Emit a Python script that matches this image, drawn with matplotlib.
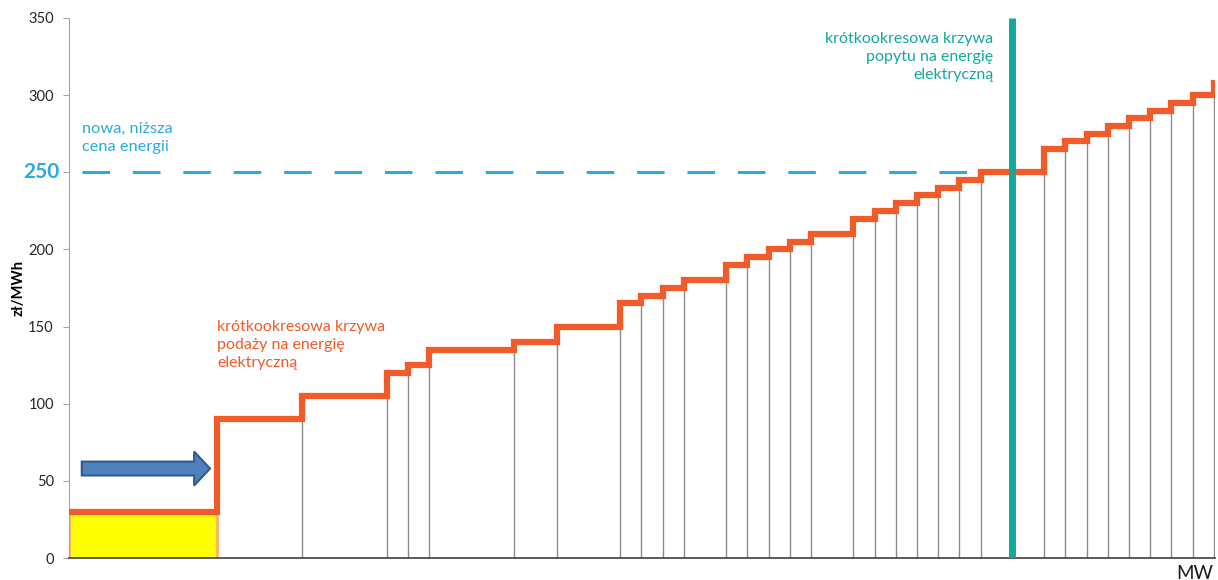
import numpy as np
import matplotlib.pyplot as plt
from matplotlib.patches import FancyArrow

plt.rcParams['font.family'] = ['Lato', 'DejaVu Sans']

# capacity blocks (MW units) and their prices (zł/MWh)
widths = [7, 4, 4, 1, 1, 4, 2, 3, 1, 1, 1, 2, 1, 1, 1, 1, 2, 1, 1, 1, 1, 1, 1,
          3, 1, 1, 1, 1, 1, 1, 1, 1]
prices = [30, 90, 105, 120, 125, 135, 140, 150, 165, 170, 175, 180, 190, 195,
          200, 205, 210, 220, 225, 230, 235, 240, 245, 250, 265, 270, 275, 280,
          285, 290, 295, 300]
next_price = 308
demand_x = 44.5
new_price = 250
yticks = [0, 50, 100, 150, 200, 250, 300, 350]
ytick_labels = ['0', '50', '100', '150', '200', '', '300', '350']

orange = '#F15A29'
teal = '#13A89E'
blue = '#29ABE2'

edges = np.concatenate([[0], np.cumsum(widths)])
starts = edges[:-1]
ends = edges[1:]

fig = plt.figure(figsize=(12.18, 5.80), dpi=100)
ax = fig.add_axes([0.0567, 0.0379, 0.9408, 0.9311])

# cheapest block highlighted
ax.bar(starts[0], prices[0], width=widths[0], align='edge', color='#FFFF00',
       edgecolor='#F8B26A', linewidth=2, zorder=2)

# right edges of blocks
ax.vlines(ends[1:], 0, prices[1:], color='#8C8C8C', linewidth=1, zorder=1)

# new price level
ax.plot([0.6, 45.5], [new_price, new_price], color=blue, linewidth=2.2,
        dashes=(9, 7.5), zorder=3)

# supply curve
ax.step(list(starts) + [ends[-1]], prices + [next_price], where='post',
        color=orange, linewidth=4.5, zorder=4, solid_joinstyle='miter')

# demand curve
ax.plot([demand_x, demand_x], [0, 350], color=teal, linewidth=5, zorder=5,
        solid_capstyle='butt')

# arrow
arr = FancyArrow(0.6, 58, 5.3, 0, width=9, head_width=22, head_length=0.75,
                 length_includes_head=False, facecolor='#4F81BD',
                 edgecolor='#2F5A8F', linewidth=1.5, zorder=6)
ax.add_patch(arr)

ax.text(0.6, 282.5, 'nowa, niższa\ncena energii', color=blue, fontsize=11.8,
        va='top', ha='left', linespacing=1.35)
ax.text(7.0, 154, 'krótkookresowa krzywa\npodaży na energię\nelektryczną',
        color=orange, fontsize=11.5, va='top', ha='left', linespacing=1.35)
ax.text(43.6, 341, 'krótkookresowa krzywa\npopytu na energię\nelektryczną',
        color=teal, fontsize=11.5, va='top', ha='right', linespacing=1.35)

ax.set_xlim(0, 54.05)
ax.set_ylim(0, 350)
ax.set_yticks(yticks)
ax.set_yticklabels(ytick_labels)
ax.set_xticks([])
ax.tick_params(axis='y', length=4, color='#A6A6A6', labelsize=10.5,
               labelcolor='#262626', pad=7)
ax.text(-0.008, new_price, '250', transform=ax.get_yaxis_transform(),
        ha='right', va='center', color=blue, fontsize=15, fontweight='bold')

ax.set_ylabel('zł/MWh', fontsize=10.5, fontweight='bold')
ax.yaxis.set_label_coords(-0.038, 0.5)
ax.text(53.1, -4.5, 'MW', fontsize=13.5, ha='center', va='top', color='#1a1a1a',
        clip_on=False)

for s in ['top', 'right']:
    ax.spines[s].set_visible(False)
ax.spines['left'].set_color('#A6A6A6')
ax.spines['bottom'].set_color('#404040')
ax.spines['bottom'].set_linewidth(1.2)

fig.savefig('out.png', dpi=100)
